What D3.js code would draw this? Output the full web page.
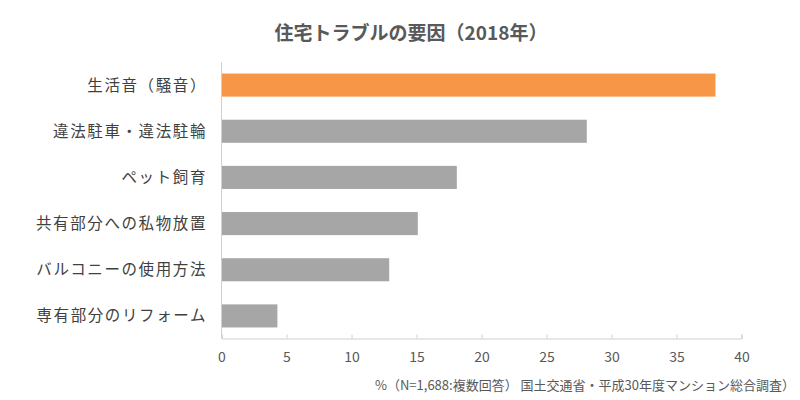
<!DOCTYPE html>
<html><head><meta charset="utf-8">
<script src="https://cdn.jsdelivr.net/npm/d3@7"></script>
<style>body{margin:0;background:#fff;}svg{display:block;}</style>
</head><body>
<svg id="c" width="800" height="400"></svg>
<script>
const title = "住宅トラブルの要因（2018年）";
const categories = ["生活音（騒音）","違法駐車・違法駐輪","ペット飼育","共有部分への私物放置","バルコニーの使用方法","専有部分のリフォーム"];
const values = [38.0, 28.1, 18.1, 15.1, 12.9, 4.3];
const barColors = ["#f79646","#a6a6a6","#a6a6a6","#a6a6a6","#a6a6a6","#a6a6a6"];
const xTicks = [0,5,10,15,20,25,30,35,40];
const note = "%（N=1,688:複数回答） 国土交通省・平成30年度マンション総合調査）";

const font = "'Noto Sans CJK JP', 'Noto Sans', sans-serif";
const svg = d3.select("#c");
const x = d3.scaleLinear().domain([0,40]).range([221.5,741.5]);
const y = d3.scaleBand().domain(categories).range([62,339]).paddingInner(0.5).paddingOuter(0.25);

svg.append("text").attr("x",411).attr("y",40).attr("text-anchor","middle")
  .attr("font-family",font).attr("font-weight","bold").attr("font-size",19)
  .attr("fill","#595959").text(title);

svg.selectAll("rect.bar").data(values).join("rect").attr("class","bar")
  .attr("x",x(0)).attr("y",(d,i)=>y(categories[i]))
  .attr("width",d=>x(d)-x(0)).attr("height",y.bandwidth())
  .attr("fill",(d,i)=>barColors[i]);

// category labels
svg.selectAll("text.cat").data(categories).join("text").attr("class","cat")
  .attr("x",207).attr("y",d=>y(d)+y.bandwidth()/2).attr("dy","0.35em")
  .attr("text-anchor","end").attr("font-family",font).attr("font-size",15.5)
  .attr("letter-spacing","1.6px").attr("fill","#404040").text(d=>d);

// y axis line
svg.append("line").attr("x1",x(0)).attr("x2",x(0)).attr("y1",62).attr("y2",338.5)
  .attr("stroke","#d0d0d0").attr("stroke-width",1);

// x axis
const xa = svg.append("g").attr("transform","translate(0,338.5)")
  .call(d3.axisBottom(x).tickValues(xTicks).tickSize(-4).tickPadding(14));
xa.select(".domain").attr("stroke","#d0d0d0");
xa.selectAll(".tick line").attr("stroke","#d0d0d0");
xa.selectAll(".tick text").attr("font-family",font).attr("font-size",14).attr("fill","#595959");

svg.append("text").attr("x",795).attr("y",390).attr("text-anchor","end")
  .attr("font-family",font).attr("font-size",13).attr("fill","#595959").text(note);
</script>
</body></html>
